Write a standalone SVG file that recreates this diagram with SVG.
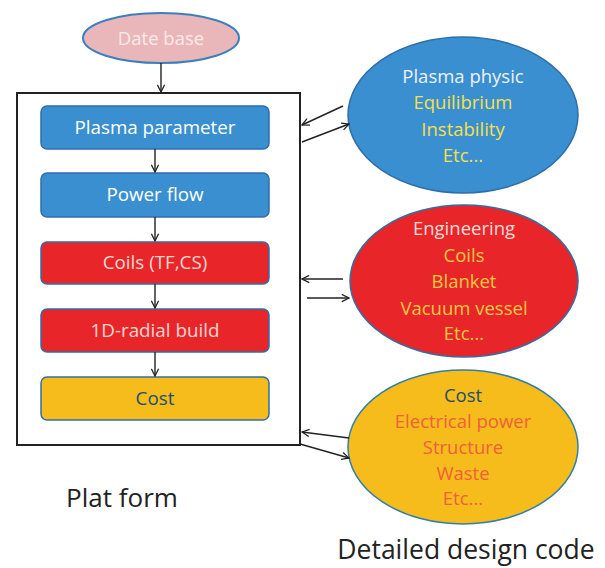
<svg xmlns="http://www.w3.org/2000/svg" width="605" height="568" viewBox="0 0 605 568">
<defs>
<marker id="ah" viewBox="0 0 10 10" refX="9" refY="5" markerWidth="9" markerHeight="9" orient="auto" markerUnits="userSpaceOnUse">
<path d="M1,1 L9,5 L1,9" fill="none" stroke="#222" stroke-width="1.4"/>
</marker>
<style>
text{font-family:"Open Sans","Liberation Sans",sans-serif;text-anchor:middle}
.box{stroke:#2f6fa8;stroke-width:1.5}
.blue{fill:#3a8fd0}
.red{fill:#e8262a}
.yel{fill:#f5bc1c}
.t{font-size:18.8px}
.e{font-size:18.5px}
.w{fill:#ffffff}
.ln{stroke:#222;stroke-width:1.4;fill:none;marker-end:url(#ah)}
</style>
</defs>
<rect width="605" height="568" fill="#ffffff"/>
<g id="frame"><rect x="17" y="93" width="283" height="352" fill="#ffffff" stroke="#222" stroke-width="2"/></g>
<g id="database">
<ellipse cx="161" cy="38" rx="78" ry="25" fill="#e9b7b9" stroke="#3a7fbf" stroke-width="2"/>
<text x="161" y="45" font-size="18.5" fill="#f8eaea">Date base</text>
</g>
<g id="plasma-parameter">
<rect x="41" y="106" width="228" height="43" rx="6" class="box blue"/>
<text x="155" y="134" class="t w">Plasma parameter</text>
</g>
<g id="power-flow">
<rect x="41" y="173" width="228" height="44" rx="6" class="box blue"/>
<text x="155" y="201" class="t w">Power flow</text>
</g>
<g id="coils">
<rect x="41" y="242" width="228" height="42" rx="6" class="box red"/>
<text x="155" y="269" class="t" fill="#f8d8d0">Coils (TF,CS)</text>
</g>
<g id="radial-build">
<rect x="41" y="309" width="228" height="43" rx="6" class="box red"/>
<text x="155" y="337" class="t" fill="#f8d8d0">1D-radial build</text>
</g>
<g id="cost">
<rect x="41" y="377" width="228" height="43" rx="6" class="box yel"/>
<text x="155" y="405" class="t" fill="#1f4e6e">Cost</text>
</g>
<g id="plasma-physic">
<ellipse cx="463" cy="115" rx="115" ry="78" class="blue" stroke="#2f6fa8" stroke-width="1.5"/>
<text x="463" y="83" class="e" fill="#eef2fa">Plasma physic</text>
<text x="463" y="109" class="e" fill="#f5e04a">Equilibrium</text>
<text x="463" y="136" class="e" fill="#f5e04a">Instability</text>
<text x="463" y="162" class="e" fill="#f5e04a">Etc...</text>
</g>
<g id="engineering">
<ellipse cx="464" cy="281" rx="114" ry="76" class="red" stroke="#2f6fa8" stroke-width="1.5"/>
<text x="464" y="235" class="e" fill="#f8dcd8">Engineering</text>
<text x="464" y="262" class="e" fill="#f5c842">Coils</text>
<text x="464" y="288" class="e" fill="#f5c842">Blanket</text>
<text x="464" y="315" class="e" fill="#f5c842">Vacuum vessel</text>
<text x="464" y="340" class="e" fill="#f5c842">Etc...</text>
</g>
<g id="cost-code">
<ellipse cx="463" cy="447" rx="115" ry="77" class="yel" stroke="#2f7fa8" stroke-width="1.5"/>
<text x="463" y="402" class="e" fill="#1f4e6e">Cost</text>
<text x="463" y="428" class="e" fill="#f0603a">Electrical power</text>
<text x="463" y="454" class="e" fill="#f0603a">Structure</text>
<text x="463" y="480" class="e" fill="#f0603a">Waste</text>
<text x="463" y="505" class="e" fill="#f0603a">Etc...</text>
</g>
<g id="connectors">
<line x1="161" y1="63" x2="161" y2="92" class="ln"/>
<line x1="155" y1="149" x2="155" y2="172" class="ln"/>
<line x1="155" y1="217" x2="155" y2="241" class="ln"/>
<line x1="155" y1="284" x2="155" y2="308" class="ln"/>
<line x1="155" y1="352" x2="155" y2="376" class="ln"/>
<line x1="343" y1="106" x2="302" y2="125" class="ln"/>
<line x1="302" y1="142" x2="349" y2="124" class="ln"/>
<line x1="343" y1="279" x2="302" y2="279" class="ln"/>
<line x1="307" y1="298" x2="349" y2="298" class="ln"/>
<line x1="349" y1="438" x2="302" y2="432" class="ln"/>
<line x1="300" y1="444" x2="349" y2="458" class="ln"/>
</g>
<g id="labels">
<text x="122" y="507" font-size="26" fill="#222">Plat form</text>
<text x="466" y="559" font-size="26.5" fill="#222">Detailed design code</text>
</g>
</svg>
